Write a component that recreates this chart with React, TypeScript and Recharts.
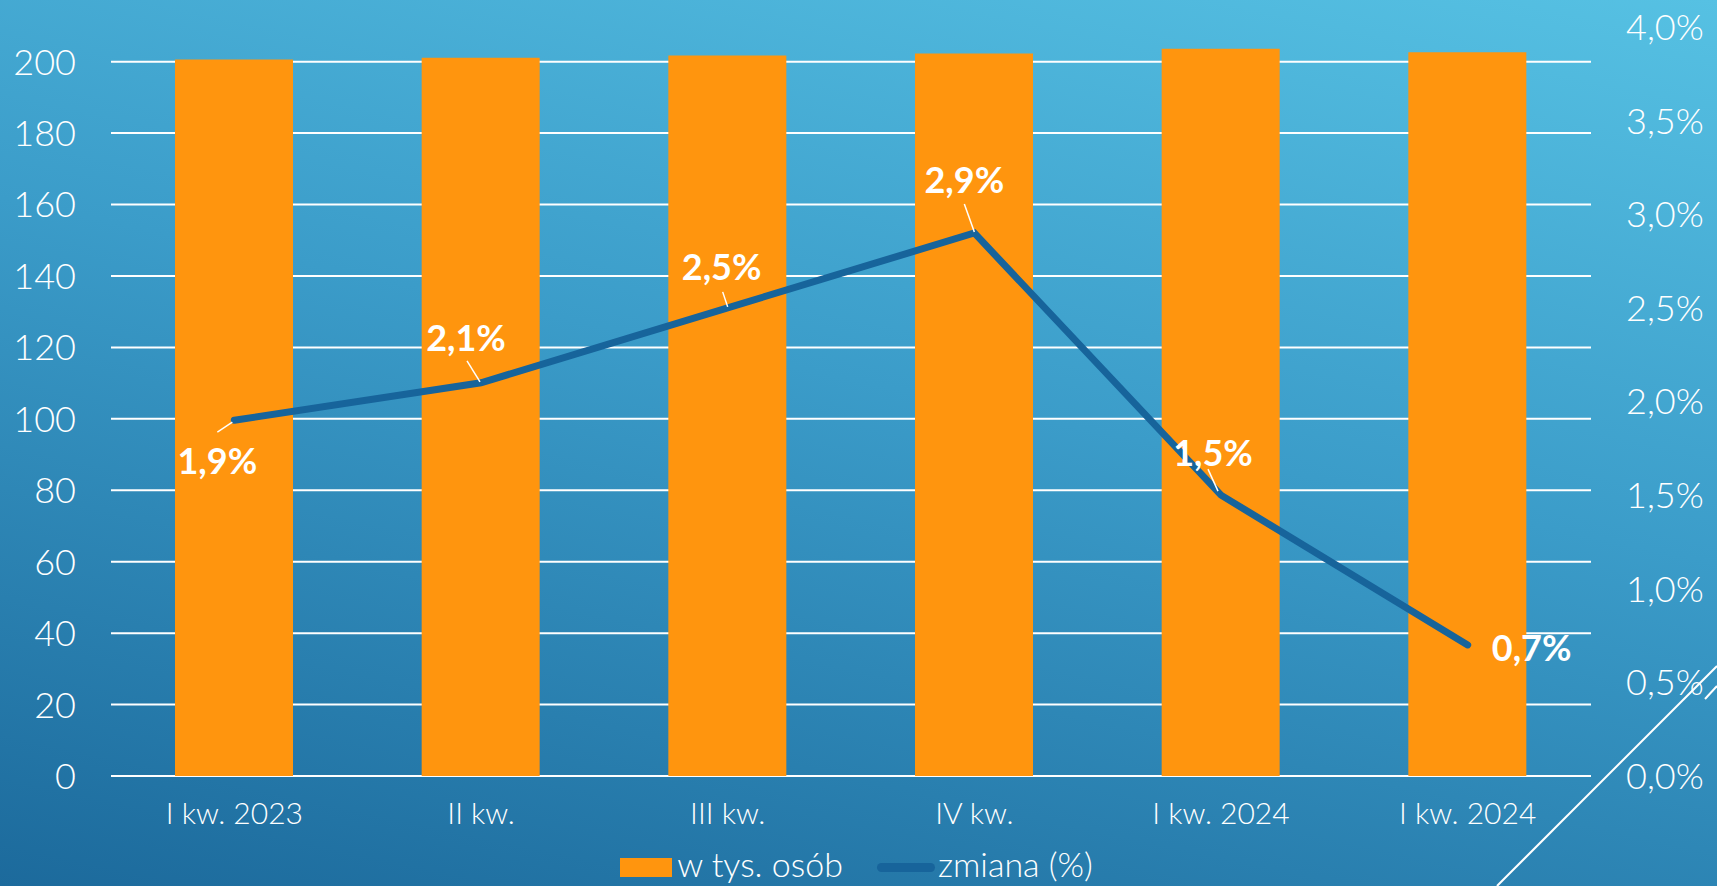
import {
  Bar,
  CartesianGrid,
  ComposedChart,
  LabelList,
  Legend,
  Line,
  XAxis,
  YAxis,
} from "recharts";

// quarters on the x axis (the last one is labelled twice in the source slide)
const quarters = ["I kw. 2023", "II kw.", "III kw.", "IV kw.", "I kw. 2024", "I kw. 2024"];
// bars: w tys. osób
const persons = [200.6, 201.1, 201.7, 202.3, 203.6, 202.6];
// line: zmiana (%)
const change = [1.9, 2.1, 2.5, 2.9, 1.5, 0.7];

const leftTicks = [0, 20, 40, 60, 80, 100, 120, 140, 160, 180, 200];
const rightTicks = [0, 0.5, 1, 1.5, 2, 2.5, 3, 3.5, 4];

const data = quarters.map((q, i) => ({
  key: `${q}-${i}`,
  quarter: q,
  persons: persons[i],
  change: change[i],
}));

const W = 1717;
const H = 886;
const FONT = "Lato, 'Open Sans', sans-serif";
const ORANGE = "#ff950e";
const LINE_BLUE = "#17649b";

// label placement per point: text centre offset and leader line (relative to point)
const labelLayout = [
  { dx: -17, dy: 40, lead: [-2, 2, -17, 12] },
  { dx: -15, dy: -46, lead: [-14, -22, -1, -1] },
  { dx: -6, dy: -42, lead: [-5, -16, 0, -1] },
  { dx: -10, dy: -54, lead: [-10, -29, 0, -1] },
  { dx: -8, dy: -43, lead: [-13, -26, -3, -4] },
  { dx: 64, dy: 2, lead: null as number[] | null },
];

const fmtPct = (v: number) => `${v.toFixed(1).replace(".", ",")}%`;

function ChangeLabel(props: any) {
  const { x, y, index, value } = props;
  const l = labelLayout[index];
  if (!l) return null;
  return (
    <g>
      {l.lead && (
        <line
          x1={x + l.lead[0]}
          y1={y + l.lead[1]}
          x2={x + l.lead[2]}
          y2={y + l.lead[3]}
          stroke="#ffffff"
          strokeWidth={1.5}
        />
      )}
      <text
        x={x + l.dx}
        y={y + l.dy}
        textAnchor="middle"
        dominantBaseline="central"
        fill="#ffffff"
        fontFamily={FONT}
        fontWeight={700}
        fontSize={36}
      >
        {fmtPct(Number(value))}
      </text>
    </g>
  );
}

function LeftTick({ x, y, payload }: any) {
  return (
    <text x={x} y={y} dy="0.36em" textAnchor="end" fill="#ffffff" fontFamily={FONT} fontWeight={300} fontSize={36}>
      {payload.value}
    </text>
  );
}

function RightTick({ x, y, payload }: any) {
  return (
    <text x={x} y={y} dy="0.36em" textAnchor="start" fill="#ffffff" fontFamily={FONT} fontWeight={300} fontSize={36}>
      {fmtPct(Number(payload.value))}
    </text>
  );
}

function QuarterTick({ x, y, payload }: any) {
  return (
    <text x={x} y={y} dy={48} textAnchor="middle" fill="#ffffff" fontFamily={FONT} fontWeight={300} fontSize={30}>
      {payload.value}
    </text>
  );
}

function renderLegend(props: any) {
  const items = props.payload ?? [];
  return (
    <div
      style={{
        display: "flex",
        justifyContent: "center",
        alignItems: "flex-end",
        paddingRight: 4,
        fontFamily: FONT,
        fontWeight: 300,
        fontSize: 34,
        color: "#ffffff",
        lineHeight: "40px",
      }}
    >
      {items.map((it: any) =>
        it.dataKey === "persons" ? (
          <div key="persons" style={{ display: "flex", alignItems: "center", marginRight: 34 }}>
            <span style={{ width: 52, height: 19, background: ORANGE, marginRight: 5, marginTop: 6 }} />
            <span>{it.value}</span>
          </div>
        ) : (
          <div key="change" style={{ display: "flex", alignItems: "center" }}>
            <span
              style={{ width: 58, height: 9, borderRadius: 5, background: LINE_BLUE, marginRight: 3, marginTop: 6 }}
            />
            <span>{it.value}</span>
          </div>
        )
      )}
    </div>
  );
}

export default function App() {
  return (
    <div
      style={{
        position: "absolute",
        left: 0,
        top: 0,
        width: W,
        height: H,
        overflow: "hidden",
        background: "linear-gradient(192deg, #56c1e3 0%, #3b9cc9 45%, #1c6a9c 100%)",
      }}
    >
      <ComposedChart
        width={W}
        height={H}
        data={data}
        margin={{ top: 27, right: 0, bottom: 0, left: 0 }}
        barCategoryGap="0%"
      >
        <CartesianGrid
          yAxisId="left"
          vertical={false}
          horizontalValues={leftTicks}
          stroke="#ffffff"
          strokeWidth={2}
        />
        <XAxis
          dataKey="quarter"
          height={110}
          axisLine={false}
          tickLine={false}
          tickSize={0}
          tickMargin={0}
          interval={0}
          tick={<QuarterTick />}
        />
        <YAxis
          yAxisId="left"
          orientation="left"
          width={111}
          domain={[0, 209.7]}
          ticks={leftTicks}
          axisLine={false}
          tickLine={false}
          tickSize={0}
          tickMargin={35}
          tick={<LeftTick />}
        />
        <YAxis
          yAxisId="right"
          orientation="right"
          width={126}
          domain={[0, 4]}
          ticks={rightTicks}
          axisLine={false}
          tickLine={false}
          tickSize={0}
          tickMargin={35}
          tick={<RightTick />}
        />
        <Bar
          yAxisId="left"
          dataKey="persons"
          name="w tys. osób"
          fill={ORANGE}
          barSize={118}
          isAnimationActive={false}
        />
        <Line
          yAxisId="right"
          dataKey="change"
          name="zmiana (%)"
          type="linear"
          stroke={LINE_BLUE}
          strokeWidth={7}
          strokeLinecap="round"
          dot={false}
          activeDot={false}
          isAnimationActive={false}
        >
          <LabelList dataKey="change" content={<ChangeLabel />} />
        </Line>
        <Legend
          layout="horizontal"
          verticalAlign="middle"
          align="center"
          content={renderLegend}
          wrapperStyle={{ top: 844, left: 0, width: W, height: 42 }}
        />
      </ComposedChart>
      {/* decorative slide strokes, bottom right */}
      <svg width={W} height={H} style={{ position: "absolute", left: 0, top: 0, pointerEvents: "none" }}>
        <line x1={1717} y1={666} x2={1497} y2={886} stroke="#ffffff" strokeWidth={2} />
        <line x1={1717} y1={686} x2={1705} y2={699} stroke="#ffffff" strokeWidth={2} />
      </svg>
    </div>
  );
}
